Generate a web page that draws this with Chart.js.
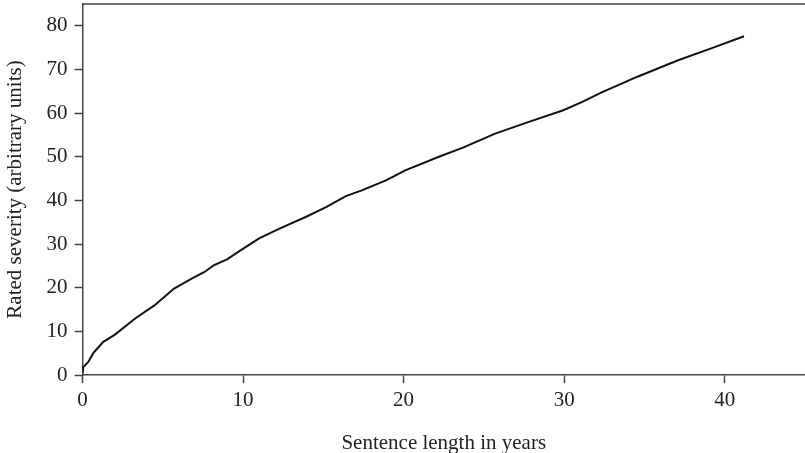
<!DOCTYPE html>
<html>
<head>
<meta charset="utf-8">
<script src="https://cdn.jsdelivr.net/npm/chart.js@4/dist/chart.umd.min.js"></script>
<style>
  html, body { margin: 0; padding: 0; background: #fff; }
  #wrap { width: 805px; height: 453px; }
</style>
</head>
<body>
<div id="wrap"><canvas id="severityChart" width="805" height="453"></canvas></div>
<script>
// sentence length (years) vs rated severity
const sentenceYears = [0, 0.05, 0.36, 0.67, 0.98, 1.29, 2.0, 3.3, 4.5, 5.7, 6.8, 7.6, 8.2, 9.0, 9.7,
  11.0, 12.3, 13.9, 15.2, 16.4, 17.4, 18.9, 20.1, 22.2, 23.7, 25.7, 27.8, 29.9, 31.1, 32.3,
  34.6, 37.1, 39.2, 41.2]
const ratedSeverity = [0.5, 1.8, 3.0, 5.0, 6.3, 7.6, 9.2, 13.0, 16.0, 19.8, 22.1, 23.6, 25.2, 26.5, 28.2,
  31.3, 33.6, 36.2, 38.5, 41.0, 42.3, 44.6, 46.9, 50.0, 52.1, 55.3, 58.0, 60.6, 62.5, 64.7,
  68.4, 72.1, 74.9, 77.6]

const xTicks = [0, 10, 20, 30, 40]
const yTicks = [0, 10, 20, 30, 40, 50, 60, 70, 80]
const xTitle = 'Sentence length in years'
const yTitle = 'Rated severity (arbitrary units)'

const ink = '#222'
const axisColor = '#444'
const serif = { family: '"Liberation Serif", "Times New Roman", serif', size: 21 }

// line along the top of the plot box
const topFrame = {
  id: 'topFrame',
  afterDraw(chart) {
    const { ctx, chartArea } = chart
    ctx.save()
    ctx.strokeStyle = axisColor
    ctx.lineWidth = 1.5
    ctx.beginPath()
    ctx.moveTo(chartArea.left, chartArea.top)
    ctx.lineTo(chartArea.right, chartArea.top)
    ctx.stroke()
    ctx.restore()
  },
}

const points = sentenceYears.map((x, i) => ({ x: x, y: ratedSeverity[i] }))

new Chart(document.getElementById('severityChart').getContext('2d'), {
  type: 'scatter',
  data: {
    datasets: [{
      data: points,
      showLine: true,
      borderColor: '#111',
      borderWidth: 2,
      pointRadius: 0,
      tension: 0,
    }],
  },
  options: {
    responsive: false,
    animation: false,
    layout: { padding: { left: 0, right: 0, top: 4, bottom: 0 } },
    plugins: { legend: { display: false }, tooltip: { enabled: false } },
    scales: {
      x: {
        type: 'linear',
        min: 0,
        max: 45,
        afterBuildTicks: (axis) => { axis.ticks = xTicks.map(v => ({ value: v })) },
        afterFit: (axis) => {
          axis.height = 78
          axis.paddingLeft = 0
          axis.paddingRight = 0
        },
        border: { color: axisColor, width: 1.5 },
        grid: { drawOnChartArea: false, tickLength: 8, color: axisColor, tickWidth: 1.5 },
        ticks: { color: ink, font: serif, padding: 5, maxRotation: 0 },
        title: { display: true, text: xTitle, color: ink, font: serif, padding: { top: 11, bottom: -3 } },
      },
      y: {
        type: 'linear',
        min: 0,
        max: 85,
        afterBuildTicks: (axis) => { axis.ticks = yTicks.map(v => ({ value: v })) },
        afterFit: (axis) => {
          axis.width = 82.5
          axis.paddingTop = 0
          axis.paddingBottom = 0
        },
        border: { color: axisColor, width: 1.5 },
        grid: { drawOnChartArea: false, tickLength: 8, color: axisColor, tickWidth: 1.5 },
        ticks: { color: ink, font: serif, padding: 7 },
        title: { display: true, text: yTitle, color: ink, font: serif, padding: { top: 3, bottom: 0 } },
      },
    },
  },
  plugins: [topFrame],
})
</script>
</body>
</html>
